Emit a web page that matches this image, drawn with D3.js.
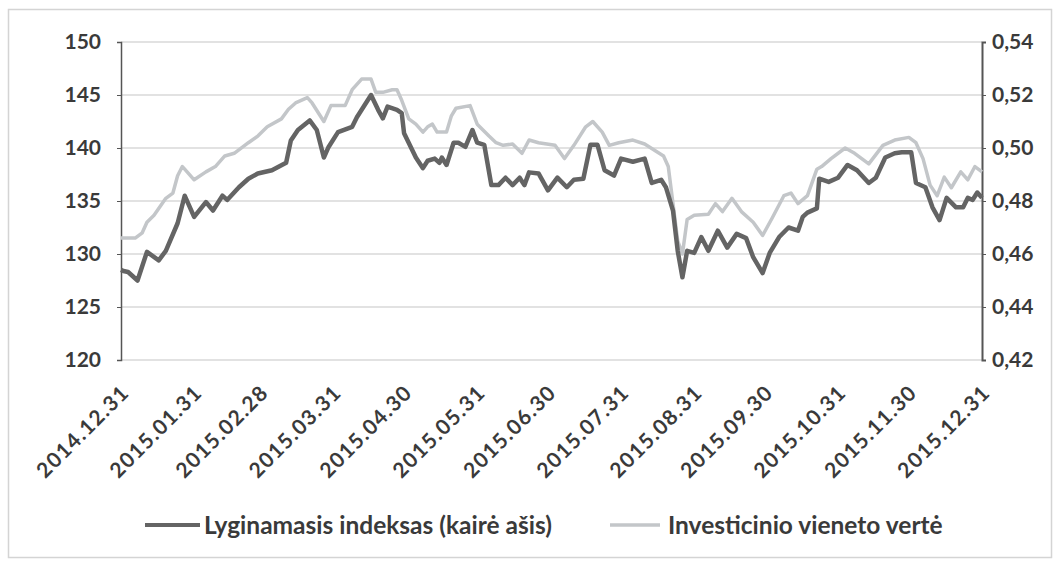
<!DOCTYPE html>
<html>
<head>
<meta charset="utf-8">
<script src="https://cdn.jsdelivr.net/npm/d3@7"></script>
<style>
  body { margin: 0; background: #fff; }
  text { font-family: Lato, "Open Sans", sans-serif; font-weight: bold; fill: #3a3a3a; }
</style>
</head>
<body>
<script>
// Lyginamasis indeksas (left axis)
const indexDates = ["2014-12-31","2015-01-01","2015-01-03","2015-01-07","2015-01-11","2015-01-16","2015-01-19","2015-01-24","2015-01-27","2015-01-31",
  "2015-02-05","2015-02-08","2015-02-12","2015-02-14","2015-02-19","2015-02-23","2015-02-27","2015-03-05","2015-03-11","2015-03-13",
  "2015-03-16","2015-03-21","2015-03-24","2015-03-27","2015-03-29","2015-04-02","2015-04-08","2015-04-10","2015-04-16","2015-04-19",
  "2015-04-21","2015-04-23","2015-04-27","2015-04-29","2015-04-30","2015-05-05","2015-05-08","2015-05-10","2015-05-13","2015-05-15",
  "2015-05-16","2015-05-18","2015-05-21","2015-05-23","2015-05-26","2015-05-29","2015-05-31","2015-06-03","2015-06-06","2015-06-09",
  "2015-06-12","2015-06-15","2015-06-18","2015-06-20","2015-06-22","2015-06-26","2015-06-30","2015-07-04","2015-07-08","2015-07-11",
  "2015-07-15","2015-07-18","2015-07-21","2015-07-24","2015-07-28","2015-07-31","2015-08-05","2015-08-10","2015-08-13","2015-08-17",
  "2015-08-19","2015-08-22","2015-08-24","2015-08-26","2015-08-28","2015-08-31","2015-09-03","2015-09-06","2015-09-10","2015-09-14",
  "2015-09-18","2015-09-22","2015-09-25","2015-09-29","2015-10-02","2015-10-06","2015-10-10","2015-10-14","2015-10-16","2015-10-18",
  "2015-10-22","2015-10-23","2015-10-27","2015-10-31","2015-11-04","2015-11-08","2015-11-13","2015-11-16","2015-11-20","2015-11-24",
  "2015-11-27","2015-12-01","2015-12-03","2015-12-07","2015-12-10","2015-12-13","2015-12-16","2015-12-20","2015-12-23","2015-12-25",
  "2015-12-27","2015-12-29","2015-12-31"];
const indexValues = [128.5,128.4,128.3,127.5,130.2,129.4,130.3,132.9,135.5,133.5,
  134.9,134.1,135.5,135.1,136.3,137.1,137.6,137.9,138.6,140.7,
  141.7,142.6,141.7,139.1,140.1,141.5,142.0,142.9,145.0,143.6,
  142.8,143.9,143.6,143.3,141.4,139.1,138.1,138.8,139.0,138.6,
  139.1,138.4,140.5,140.5,140.1,141.7,140.5,140.3,136.5,136.5,
  137.2,136.5,137.2,136.5,137.7,137.6,136.0,137.2,136.3,137.0,
  137.1,140.3,140.3,137.9,137.4,139.0,138.7,139.0,136.7,137.0,
  136.3,134.1,130.3,127.8,130.3,130.1,131.6,130.3,132.2,130.6,
  131.9,131.5,129.7,128.2,130.1,131.6,132.5,132.2,133.5,133.9,
  134.3,137.1,136.8,137.2,138.4,137.9,136.7,137.2,139.1,139.5,
  139.6,139.6,136.7,136.3,134.4,133.2,135.3,134.4,134.4,135.3,
  135.1,135.8,135.3];

// Investicinio vieneto vertė (right axis)
const unitDates = ["2014-12-31","2015-01-06","2015-01-09","2015-01-11","2015-01-14","2015-01-19","2015-01-22","2015-01-24","2015-01-26","2015-01-27",
  "2015-01-31","2015-02-05","2015-02-09","2015-02-13","2015-02-17","2015-02-23","2015-02-27","2015-03-03","2015-03-09","2015-03-12",
  "2015-03-15","2015-03-20","2015-03-22","2015-03-27","2015-03-30","2015-04-05","2015-04-08","2015-04-12","2015-04-16","2015-04-18",
  "2015-04-21","2015-04-25","2015-04-27","2015-04-29","2015-05-02","2015-05-05","2015-05-08","2015-05-10","2015-05-12","2015-05-14",
  "2015-05-18","2015-05-20","2015-05-22","2015-05-28","2015-05-31","2015-06-05","2015-06-08","2015-06-11","2015-06-15","2015-06-19",
  "2015-06-22","2015-06-26","2015-07-03","2015-07-07","2015-07-11","2015-07-16","2015-07-19","2015-07-23","2015-07-26","2015-07-30",
  "2015-08-05","2015-08-10","2015-08-18","2015-08-20","2015-08-24","2015-08-26","2015-08-28","2015-08-31","2015-09-06","2015-09-09",
  "2015-09-12","2015-09-16","2015-09-20","2015-09-25","2015-09-29","2015-10-03","2015-10-08","2015-10-11","2015-10-14","2015-10-18",
  "2015-10-22","2015-10-24","2015-10-28","2015-11-03","2015-11-07","2015-11-13","2015-11-19","2015-11-24","2015-11-30","2015-12-03",
  "2015-12-06","2015-12-09","2015-12-12","2015-12-15","2015-12-18","2015-12-22","2015-12-25","2015-12-28","2015-12-31"];
const unitValues = [0.466,0.466,0.468,0.472,0.4746,0.481,0.483,0.4895,0.493,0.492,
  0.488,0.491,0.493,0.497,0.498,0.502,0.5045,0.508,0.511,0.5146,
  0.517,0.519,0.517,0.510,0.516,0.516,0.522,0.526,0.526,0.521,
  0.521,0.522,0.522,0.518,0.511,0.509,0.506,0.508,0.509,0.506,
  0.506,0.512,0.515,0.516,0.509,0.5045,0.502,0.501,0.5015,0.498,
  0.503,0.502,0.501,0.496,0.501,0.508,0.510,0.506,0.501,0.502,
  0.503,0.5015,0.497,0.493,0.465,0.460,0.473,0.4746,0.475,0.479,
  0.476,0.481,0.476,0.472,0.467,0.4735,0.482,0.483,0.479,0.482,
  0.492,0.493,0.496,0.500,0.498,0.494,0.501,0.503,0.504,0.502,
  0.496,0.486,0.482,0.489,0.485,0.491,0.488,0.493,0.491];

const tickDates = ["2014-12-31","2015-01-31","2015-02-28","2015-03-31","2015-04-30","2015-05-31","2015-06-30",
  "2015-07-31","2015-08-31","2015-09-30","2015-10-31","2015-11-30","2015-12-31"];
const leftTicks = [120,125,130,135,140,145,150];
const rightTicks = [0.42,0.44,0.46,0.48,0.50,0.52,0.54];
const legendLabels = ["Lyginamasis indeksas (kairė ašis)", "Investicinio vieneto vertė"];

const W = 1060, H = 568;
const m = {left: 121, right: 78, top: 42, bottom: 208};
const parse = d3.timeParse("%Y-%m-%d");
const fmtTick = d3.timeFormat("%Y.%m.%d");

const svg = d3.select("body").append("svg").attr("width", W).attr("height", H);

svg.append("rect").attr("x", 8.5).attr("y", 9.5).attr("width", 1043).attr("height", 548)
  .attr("fill", "none").attr("stroke", "#d4d4d4").attr("stroke-width", 1.5);

const x = d3.scaleTime()
  .domain([parse(tickDates[0]), parse(tickDates[tickDates.length - 1])])
  .range([m.left, W - m.right]);
const yL = d3.scaleLinear().domain([120, 150]).range([H - m.bottom, m.top]);
const yR = d3.scaleLinear().domain([0.42, 0.54]).range([H - m.bottom, m.top]);

// gridlines
svg.append("g").selectAll("line").data(leftTicks).join("line")
  .attr("x1", m.left).attr("x2", W - m.right)
  .attr("y1", d => yL(d)).attr("y2", d => yL(d))
  .attr("stroke", "#d9d9d9").attr("stroke-width", 1.5);

// left axis
const gL = svg.append("g").attr("transform", `translate(${m.left},0)`)
  .call(d3.axisLeft(yL).tickValues(leftTicks).tickSize(4).tickFormat(d3.format("d")));
gL.select(".domain").attr("stroke", "#555").attr("stroke-width", 1.5);
gL.selectAll(".tick line").attr("stroke", "#555");
gL.selectAll(".tick text").attr("x", -20).attr("font-size", 21).attr("fill", "#3a3a3a");

// right axis
const commaFmt = d => d3.format(".2f")(d).replace(".", ",");
const gR = svg.append("g").attr("transform", `translate(${W - m.right},0)`)
  .call(d3.axisRight(yR).tickValues(rightTicks).tickSize(4).tickFormat(commaFmt));
gR.select(".domain").attr("stroke", "#555").attr("stroke-width", 2);
gR.selectAll(".tick line").attr("stroke", "#555");
gR.selectAll(".tick text").attr("x", 10).attr("font-size", 21).attr("fill", "#3a3a3a");

// bottom axis
const gB = svg.append("g").attr("transform", `translate(0,${H - m.bottom})`)
  .call(d3.axisBottom(x).tickValues(tickDates.map(parse)).tickSize(0).tickFormat(fmtTick));
gB.select(".domain").remove();
gB.selectAll(".tick text")
  .attr("font-size", 21).attr("letter-spacing", 1.3).attr("fill", "#3a3a3a")
  .attr("text-anchor", "end")
  .attr("y", 0).attr("dy", 0)
  .attr("transform", "translate(9,34) rotate(-45)");

// lines
const unitData = unitDates.map((d, i) => ({date: parse(d), v: unitValues[i]}));
const indexData = indexDates.map((d, i) => ({date: parse(d), v: indexValues[i]}));

svg.append("path").datum(unitData)
  .attr("fill", "none").attr("stroke", "#c3c6c9").attr("stroke-width", 3.5)
  .attr("stroke-linejoin", "round")
  .attr("d", d3.line().x(d => x(d.date)).y(d => yR(d.v)));

svg.append("path").datum(indexData)
  .attr("fill", "none").attr("stroke", "#646464").attr("stroke-width", 4.5)
  .attr("stroke-linejoin", "round")
  .attr("d", d3.line().x(d => x(d.date)).y(d => yL(d.v)));

// legend
const legend = svg.append("g").attr("transform", "translate(0,525)");
const legendItems = [
  {label: legendLabels[0], color: "#646464", w: 4, x: 145, len: 55, gap: 4},
  {label: legendLabels[1], color: "#c3c6c9", w: 3.5, x: 610, len: 50, gap: 8}
];
legendItems.forEach(it => {
  legend.append("line").attr("x1", it.x).attr("x2", it.x + it.len).attr("y1", 0).attr("y2", 0)
    .attr("stroke", it.color).attr("stroke-width", it.w);
  legend.append("text").attr("x", it.x + it.len + it.gap).attr("y", 0).attr("dy", "0.35em")
    .attr("font-size", 24.5).text(it.label);
});
</script>
</body>
</html>
